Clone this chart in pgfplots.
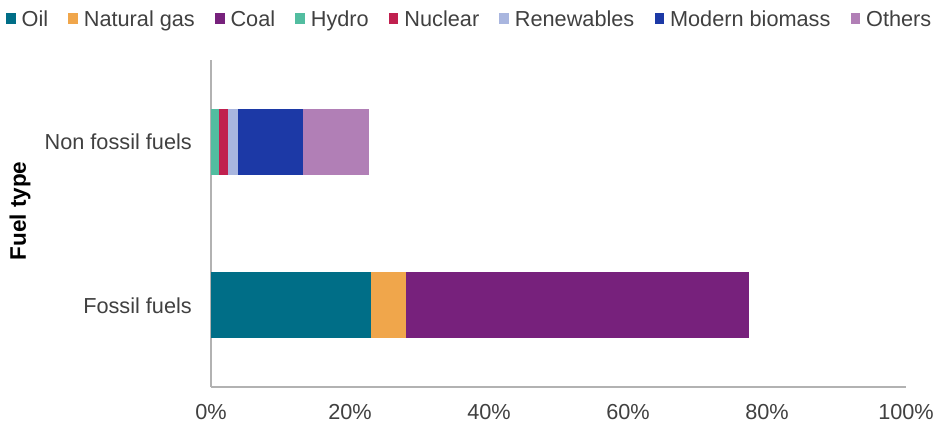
\documentclass[border=0pt]{standalone}
\usepackage{pgfplots}
\pgfplotsset{compat=1.18}
\usepackage{fontspec}
\setmainfont{Liberation Sans}

\definecolor{cOil}{HTML}{006E87}
\definecolor{cGas}{HTML}{F0A64B}
\definecolor{cCoal}{HTML}{77217C}
\definecolor{cHydro}{HTML}{52BDA0}
\definecolor{cNuclear}{HTML}{C0204F}
\definecolor{cRenew}{HTML}{A9B6DF}
\definecolor{cBiomass}{HTML}{1C39A6}
\definecolor{cOthers}{HTML}{B17FB6}
\definecolor{txt}{HTML}{404040}

\newcommand\fs{\fontsize{21.7pt}{26pt}\selectfont}

\begin{document}
\begin{tikzpicture}
\useasboundingbox (0pt,0pt) rectangle (936pt,423pt);
\begin{axis}[
  at={(211pt,36pt)}, anchor=south west,
  scale only axis, width=695pt, height=327pt,
  xbar stacked, bar width=0.404,
  xmin=0, xmax=100, ymin=-0.5, ymax=1.5,
  axis x line*=bottom, axis y line*=left,
  axis line style={black!30, line width=1.3pt, -},
  major tick length=0pt,
  xtick={0,20,40,60,80,100},
  xticklabel={\pgfmathprintnumber{\tick}\%},
  /pgf/number format/assume math mode=true,
  ytick={0,1}, yticklabels={Fossil fuels, Non fossil fuels},
  every tick label/.append style={font=\fs, text=txt},
  xticklabel style={anchor=base, yshift=-32pt},
  yticklabel style={anchor=east, inner sep=0pt, xshift=-19pt},
  ylabel={Fuel type},
  ylabel style={at={(rel axis cs:-0.2748,0.538)}, anchor=center,
                font=\fontsize{22.5pt}{27pt}\selectfont\bfseries, text=black},
  legend image code/.code={\fill[#1] (0pt,-5.5pt) rectangle (9.5pt,5.5pt);},
  legend columns=-1,
  legend style={at={(rel axis cs:-0.2950,1.1254)}, anchor=west,
    draw=none, fill=none, inner sep=0pt,
    cells={anchor=west},
    nodes={inner sep=0pt, text height=15.5pt, text depth=0pt, font=\fs, text=txt},
    /tikz/every odd column/.append style={column sep=6pt},
    /tikz/every even column/.append style={column sep=20.2pt}},
  every axis plot/.append style={draw=none},
]
% share of primary energy by fuel (%)
\addplot[fill=cOil]     coordinates {(23.0,0) (0,1)};
\addplot[fill=cGas]     coordinates {(5.1,0)  (0,1)};
\addplot[fill=cCoal]    coordinates {(49.3,0) (0,1)};
\addplot[fill=cHydro]   coordinates {(0,0) (1.2,1)};
\addplot[fill=cNuclear] coordinates {(0,0) (1.2,1)};
\addplot[fill=cRenew]   coordinates {(0,0) (1.5,1)};
\addplot[fill=cBiomass] coordinates {(0,0) (9.3,1)};
\addplot[fill=cOthers]  coordinates {(0,0) (9.6,1)};
\legend{Oil, Natural gas, Coal, Hydro, Nuclear, Renewables, Modern biomass, Others}
\end{axis}
\end{tikzpicture}
\end{document}
